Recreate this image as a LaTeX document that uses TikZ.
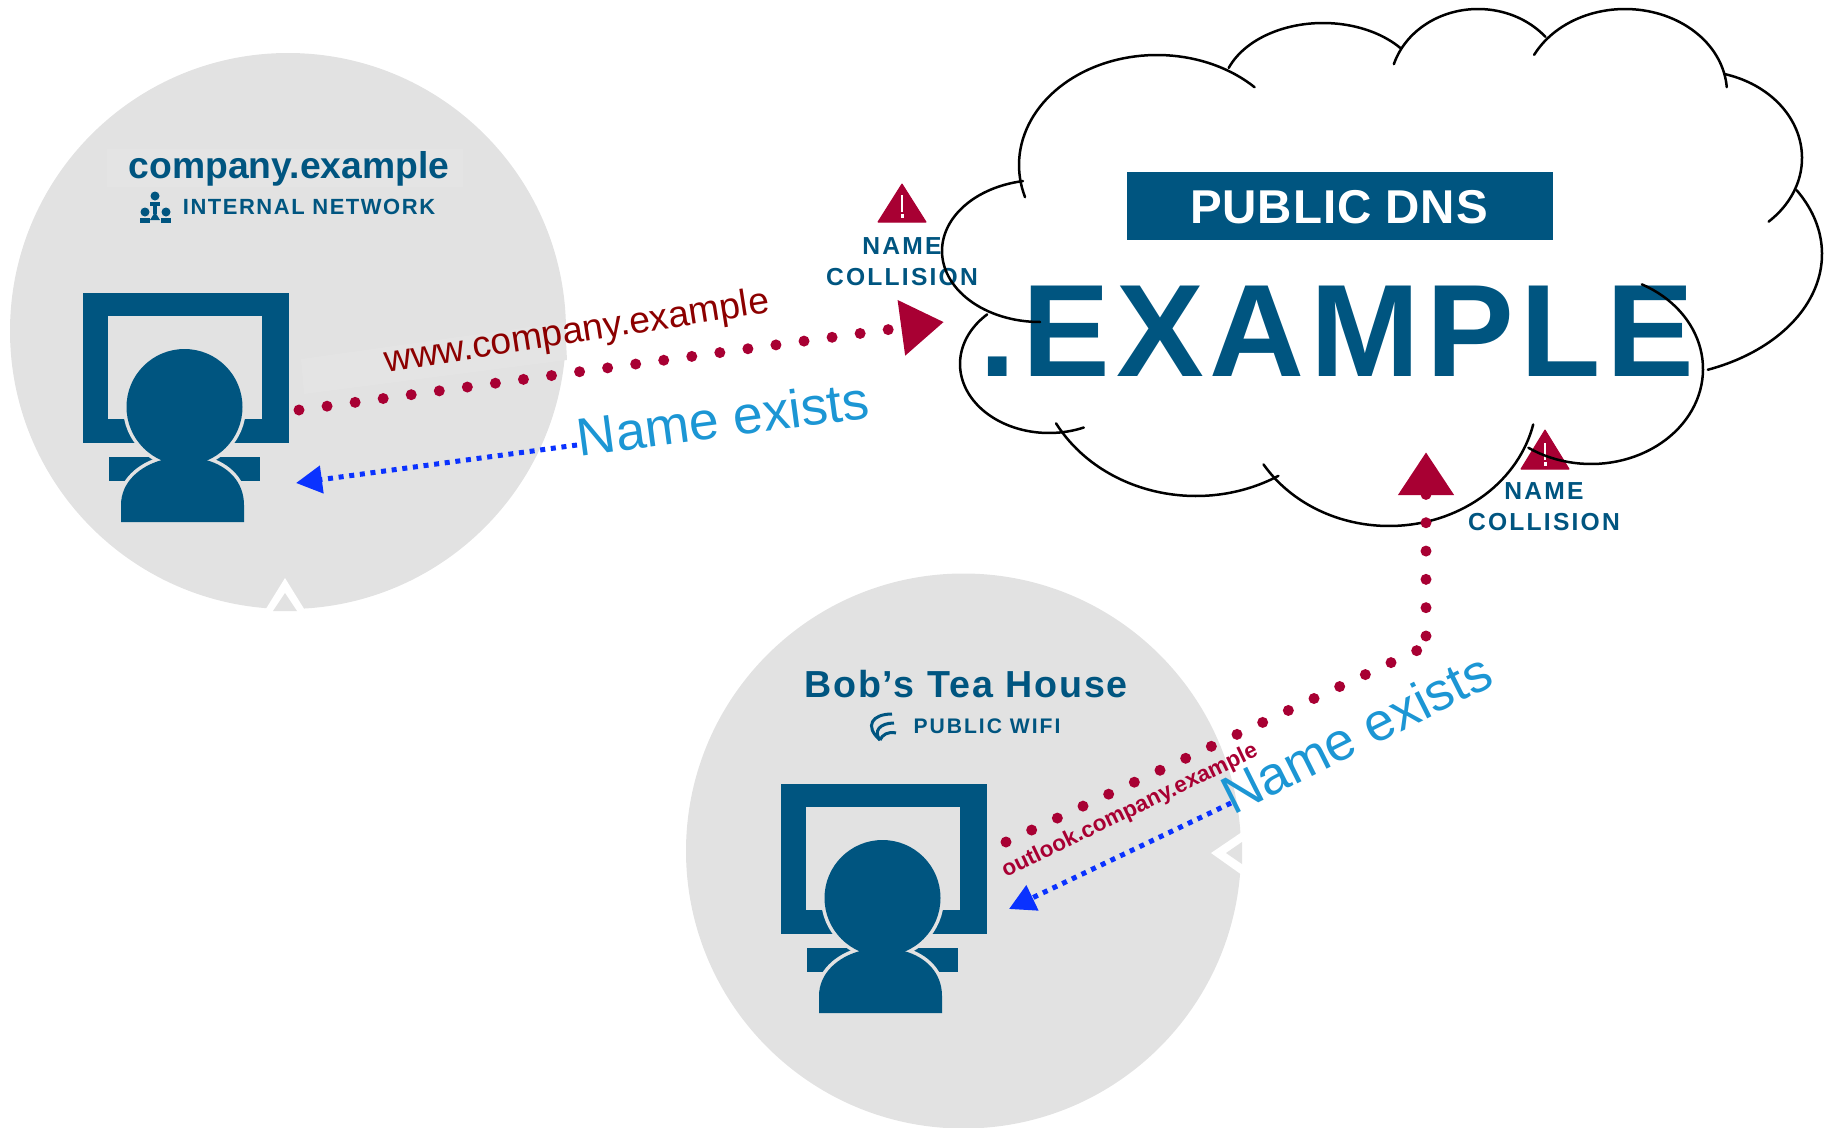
\documentclass[tikz,border=0pt]{standalone}
\usepackage{fontspec}
\setmainfont{Liberation Sans}
\usetikzlibrary{arrows.meta}
\definecolor{navy}{HTML}{005580}
\definecolor{alert}{HTML}{A80033}
\definecolor{disc}{HTML}{E2E2E2}
\definecolor{ask}{HTML}{0A32FF}
\definecolor{answer}{HTML}{1C96D4}
\newcommand{\spaced}[2]{\fontsize{#1}{#1}\selectfont\addfontfeatures{LetterSpace=#2}}
\tikzset{
  reddots/.style={alert, line width=1.1mm, line cap=round, dash pattern=on 0mm off 2.83mm},
  redhead/.style={-{Triangle[length=4.3mm,width=5.3mm]}},
  bluedots/.style={ask, line width=0.5mm, dash pattern=on 0.5mm off 0.57mm, -{Triangle[length=2.6mm,width=2.7mm]}},
  collision/.style={navy, align=center, font=\bfseries\fontsize{7}{8.8}\selectfont\addfontfeatures{LetterSpace=9}},
  exists/.style={answer, font=\fontsize{15.2}{15.2}\selectfont},
  lobe/.style={black, line width=0.25mm, line cap=round}
}
\begin{document}
\begin{tikzpicture}[x=0.01cm, y=-0.01cm]
  \useasboundingbox (0,0) rectangle (1830,1127);
  % Draw the two discs with their notches
  \fill[disc] (288,331) circle (278);
  \fill[disc] (963.5,851) circle (277.5);
  \fill[white] (264,612) -- (285,578) -- (306,612) -- cycle;
  \fill[disc] (273,611) -- (285,593) -- (297,611) -- cycle;
  \fill[white] (1242,832) -- (1211,853) -- (1242,875) -- cycle;
  \fill[disc] (1242,842) -- (1226,853) -- (1242,864) -- cycle;
  % Draw the person at the screen, once per disc
  \foreach \dx/\dy in {0/0, 698/491} {
    \begin{scope}[shift={(\dx,\dy)}]
      \fill[navy] (83,293) rectangle (289,443);
      \fill[disc] (108,316) rectangle (262,419);
      \fill[navy] (109,457) rectangle (260,481);
      \filldraw[disc, line width=0.7mm] (121,522) -- (121,505) .. controls (121,482) and (140,466) .. (162,460) -- (206,460) .. controls (228,466) and (244,482) .. (244,505) -- (244,522) -- cycle;
      \filldraw[disc, line width=0.7mm] (184.5,407) circle (58);
      \fill[navy] (121,522) -- (121,505) .. controls (121,482) and (140,466) .. (162,460) -- (206,460) .. controls (228,466) and (244,482) .. (244,505) -- (244,522) -- cycle;
      \fill[navy] (184.5,407) circle (58);
    \end{scope}
  }
  % Draw the titles of the discs
  \node[fill=disc!93!white, minimum width=3.55cm, minimum height=0.38cm, inner sep=0pt] (companybg) at (285,168) {};
  \node[navy, font=\bfseries\fontsize{10.6}{10.6}\selectfont] (company) at (289,169) {company.example};
  \node[navy, font=\bfseries\spaced{6.25}{7}] (internal) at (309,207) {INTERNAL NETWORK};
  \node[navy, font=\bfseries\spaced{10.7}{5}] (bob) at (966,684) {Bob’s Tea House};
  \node[navy, font=\bfseries\spaced{6}{9.5}] (wifi) at (987,726) {PUBLIC WIFI};
  % Draw the small people of the internal network
  \fill[navy] (155,196) circle (4.5);
  \fill[navy] (145,212) circle (4.5);
  \fill[navy] (166,212) circle (4.5);
  \fill[navy] (150,202) rectangle (160,206);
  \fill[navy] (153,206) rectangle (157,214);
  \fill[navy] (150,220) -- (155,212) -- (160,220) -- cycle;
  \fill[navy] (140,218) rectangle (150,223);
  \fill[navy] (161,218) rectangle (171,223);
  % Draw the wifi waves
  \draw[navy, line width=0.3mm] (892,714) .. controls (872,714) and (864,726) .. (880,740);
  \draw[navy, line width=0.3mm] (894,723) .. controls (880,723) and (873,731) .. (880,740);
  \draw[navy, line width=0.3mm] (896,733) .. controls (888,731) and (882,735) .. (880,740);
  % Draw the public side
  \node[fill=navy, minimum width=4.26cm, minimum height=0.68cm, inner sep=0pt] (dnsbox) at (1340,206) {};
  \node[white, font=\bfseries\spaced{13.5}{2}] (dns) at (1339,207) {PUBLIC DNS};
  \node[navy, font=\bfseries\spaced{37.4}{4.6}] (tld) at (1337,331) {.EXAMPLE};
  % Draw the warnings
  \filldraw[alert, line width=0.1mm, line join=round] (902,184) -- (926,222) -- (878,222) -- cycle;
  \fill[white] (901,195) rectangle (903,212);
  \fill[white] (900.5,214) rectangle (903.5,218);
  \node[collision] (namea) at (902,262) {NAME\\COLLISION};
  \filldraw[alert, line width=0.1mm, line join=round] (1545,430) -- (1569,469) -- (1521,469) -- cycle;
  \fill[white] (1544,443) rectangle (1546,460);
  \fill[white] (1543.5,462) rectangle (1546.5,466);
  \node[collision] (nameb) at (1544,507) {NAME\\COLLISION};
  % Draw the cloud, one arc per lobe
  \foreach \cx/\cy/\rx/\ry/\anga/\angb in {
    1157/165/138/110/163/315, 1323/93/101/70/201/320, 1478/87/88/78/197/320,
    1625/93/102/84/207/356, 1697/158/105/87/-75/47, 1644/254/178/124/-31/69,
    1591/369/112/95/-63/124, 1389/395/148/131/13/148, 1196/355/160/141/59/151,
    1049/364/89/69/67/226, 1040/251/98/71/90/260} {
    \draw[lobe] plot[domain=\anga:\angb, samples=60, variable=\t] ({\cx+\rx*cos(\t)}, {\cy+\ry*sin(\t)});
  }
  % Draw the labels of the connectors
  \fill[disc!93!white] (301,359) -- (565,322) -- (567,360) -- (304,394) -- cycle;
  \node[rotate=8.9, color=red!55!black, font=\fontsize{10.6}{10.6}\selectfont] (www) at (577,333) {www.company.example};
  \node[rotate=7.6, exists] (existsa) at (723,418) {Name exists};
  \node[rotate=25.7, alert, font=\bfseries\fontsize{6.4}{6.4}\selectfont] (outlook) at (1130,811) {outlook.company.example};
  \node[rotate=26.6, exists] (existsb) at (1356,733) {Name exists};
  % Draw the connectors
  \coordinate (deska) at (299,410);
  \coordinate (cloudleft) at (944,322);
  \coordinate (deskb) at (1006,842);
  \coordinate (bend) at (1417,650.5);
  \coordinate (turned) at (1426,636);
  \coordinate (cloudbottom) at (1426,452);
  \coordinate (replya) at (577,445);
  \coordinate (backa) at (296,483);
  \coordinate (replyb) at (1231,803);
  \coordinate (backb) at (1009,909);
  \draw[reddots, redhead] (deska) -- (cloudleft);
  \draw[reddots] (deskb) -- (bend);
  \draw[reddots, redhead] (turned) -- (cloudbottom);
  \draw[bluedots] (replya) -- (backa);
  \draw[bluedots] (replyb) -- (backb);
\end{tikzpicture}
\end{document}
